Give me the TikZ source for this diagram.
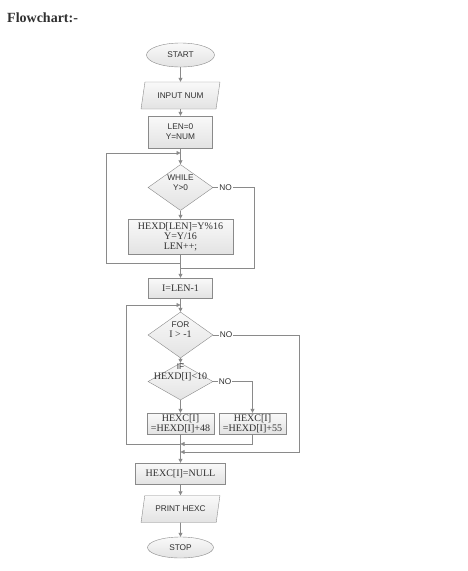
\documentclass[tikz,border=0pt]{standalone}
\usepackage{fontspec}
\setmainfont{Liberation Serif}
\newfontfamily\arialfont{Liberation Sans}
\usetikzlibrary{shapes.geometric,arrows.meta}
\definecolor{flowline}{HTML}{8A8A8A}
\definecolor{flowtop}{HTML}{F9F9F9}
\definecolor{flowbot}{HTML}{E3E3E3}
\definecolor{flowtext}{HTML}{303030}
\tikzset{
  shaded/.style={draw=flowline, top color=flowtop, bottom color=flowbot,
    text=flowtext, inner sep=0pt, align=center},
  sanstext/.style={font=\arialfont\fontsize{8.3}{10}\selectfont},
  seriftext/.style={font=\fontsize{10}{10}\selectfont},
  terminal/.style={shaded, sanstext, ellipse, minimum width=68pt, minimum height=24pt},
  iodata/.style={shaded, sanstext, trapezium, trapezium left angle=66,
    trapezium right angle=114, trapezium stretches=true,
    minimum width=79pt, minimum height=27pt},
  process/.style={shaded, rectangle},
  decision/.style={shaded, diamond, minimum width=65pt, minimum height=46pt},
  decisiontext/.style={text=flowtext, inner sep=0pt, align=center},
  nolabel/.style={sanstext, text=flowtext, fill=white, inner sep=1pt},
  wire/.style={draw=flowline, line width=0.8pt},
  arr/.style={wire, -{Triangle[length=4pt,width=4pt]}},
}
\begin{document}
\begin{tikzpicture}[x=1pt, y=-1pt]
  \useasboundingbox (0,0) rectangle (467,571);
  \node[font=\bfseries\fontsize{14}{16}\selectfont, text=flowtext, anchor=base west, inner sep=0pt]
    (title) at (7,22) {Flowchart:-};

  % Conversion part
  \node[terminal] (start) at (180.5,55) {START};
  \node[iodata] (input) at (180.5,95.5) {INPUT NUM};
  \node[process, sanstext, minimum width=64pt, minimum height=32pt] (init) at (180.5,132) {LEN=0\\Y=NUM};
  \node[decision] (while) at (180.5,187.5) {};
  \node[decisiontext, sanstext] (whiletext) at (180.5,182.5) {WHILE\\Y>0};
  \node[process, seriftext, minimum width=105pt, minimum height=35pt] (hexd) at (180.5,236.5)
    {HEXD[LEN]=Y\%16\\Y=Y/16\\LEN++;};
  \coordinate (wtop) at (180.5,153);
  \coordinate (wbot) at (180.5,263);
  \coordinate (wexit) at (180.5,268);

  % Reversal part
  \node[process, seriftext, minimum width=64pt, minimum height=20pt] (ilen) at (180.5,288) {I=LEN-1};
  \node[decision] (for) at (180.5,335) {};
  \node[decisiontext, seriftext] (fortext) at (180.5,330) {{\arialfont\fontsize{8.3}{10}\selectfont FOR}\\I > -1};
  \node[decision, minimum height=37pt] (if) at (180.5,381.5) {};
  \node[decisiontext, seriftext] (iftext) at (180.5,372) {{\arialfont\fontsize{8.3}{10}\selectfont IF}\\HEXD[I]<10};
  \node[process, seriftext, minimum width=67pt, minimum height=21pt] (hexca) at (180.5,423.5) {HEXC[I]\\=HEXD[I]+48};
  \node[process, seriftext, minimum width=67pt, minimum height=21pt] (hexcb) at (252.5,423.5) {HEXC[I]\\=HEXD[I]+55};
  \coordinate (ftop) at (180.5,305);
  \coordinate (fjoin) at (180.5,444);
  \coordinate (fexit) at (180.5,452);

  % Output part
  \node[process, seriftext, minimum width=90pt, minimum height=21pt] (null) at (180.5,473.5) {HEXC[I]=NULL};
  \node[iodata] (print) at (180.5,509) {PRINT HEXC};
  \node[terminal, minimum width=66pt, minimum height=21pt] (stop) at (180.5,547.5) {STOP};

  % Connectors
  \draw[arr] (start) -- (input);
  \draw[arr] (input) -- (init);
  \draw[arr] (init) -- (while);
  \draw[arr] (while) -- (hexd);
  \draw[arr] (hexd) -- (ilen);
  \draw[arr] (wbot) -- ++(-74.5,0) |- (wtop);
  \draw[wire] (while.east) -- node[nolabel, pos=0.3] {NO} ++(41,0) |- (wexit);
  \draw[arr] (ilen) -- (for);
  \draw[arr] (fjoin) -- ++(-54.5,0) |- (ftop);
  \draw[arr] (for) -- (if);
  \draw[arr] (if) -- (hexca);
  \draw[arr] (if.east) -- node[nolabel, pos=0.3] {NO} (if.east -| hexcb.north) -- (hexcb);
  \draw[arr] (hexcb) |- (fjoin);
  \draw[arr] (for.east) -- node[nolabel, pos=0.15] {NO} ++(86,0) |- (fexit);
  \draw[arr] (hexca) -- (null);
  \draw[arr] (null) -- (print);
  \draw[arr] (print) -- (stop);
\end{tikzpicture}
\end{document}
